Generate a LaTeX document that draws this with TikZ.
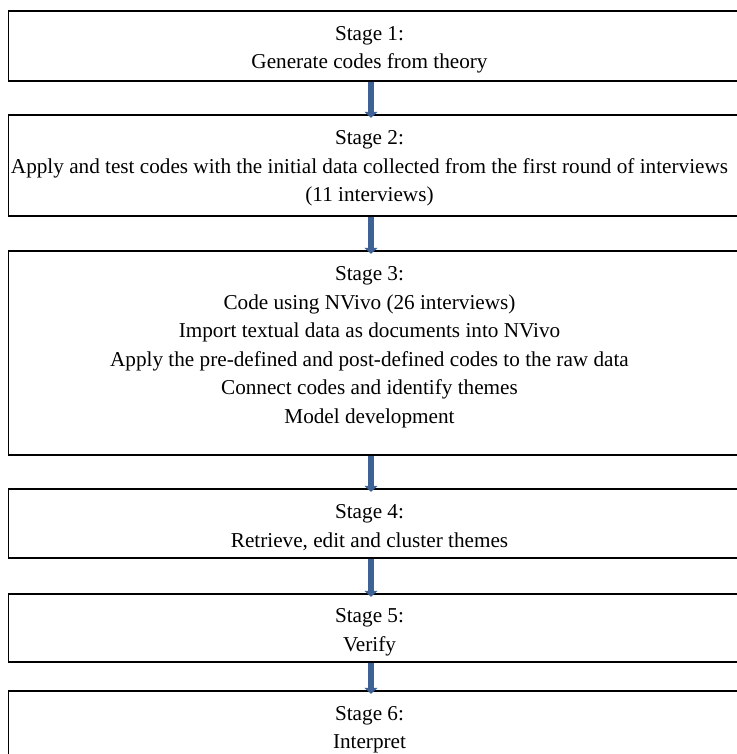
\documentclass[tikz,border=0pt]{standalone}
\usepackage{fontspec}
\setmainfont{Liberation Serif}
\usetikzlibrary{arrows.meta}
\definecolor{arrowblue}{RGB}{62,98,150}
\tikzset{
  stagebox/.style={draw=black, line width=1.3bp, rectangle, minimum width=736.7bp, inner sep=0pt},
  stagetext/.style={anchor=base, align=center, inner sep=0pt, font=\fontsize{21.2bp}{28.5bp}\selectfont},
  flow/.style={draw=arrowblue, line width=6bp, -{Triangle[width=13bp,length=6bp]}, shorten >=-3.5bp}
}
\begin{document}
\begin{tikzpicture}[x=1bp,y=-1bp]
\useasboundingbox (0,0) rectangle (737,754);
\clip (0,0) rectangle (737,754);
\fill[white] (0,0) rectangle (737,754);
\coordinate (ax) at (371,0);
% boxes
\node[stagebox, minimum height=70bp]  (s1) at (376.65,46) {};
\node[stagebox, minimum height=101bp] (s2) at (376.65,165.5) {};
\node[stagebox, minimum height=204bp] (s3) at (376.65,353) {};
\node[stagebox, minimum height=69bp]  (s4) at (376.65,523.5) {};
\node[stagebox, minimum height=68bp]  (s5) at (376.65,628) {};
\node[stagebox, minimum height=90bp]  (s6) at (376.65,736) {};
% texts (anchored at the baseline of the last line)
\node[stagetext] (t1) at (369.5,69) {Stage 1:\\Generate codes from theory};
\node[stagetext] (t2) at (369.5,201.5) {Stage 2:\\Apply and test codes with the initial data collected from the first round of interviews\\(11 interviews)};
\node[stagetext] (t3) at (369.5,423) {Stage 3:\\Code using NVivo (26 interviews)\\Import textual data as documents into NVivo\\Apply the pre-defined and post-defined codes to the raw data\\Connect codes and identify themes\\Model development};
\node[stagetext] (t4) at (369.5,547) {Stage 4:\\Retrieve, edit and cluster themes};
\node[stagetext] (t5) at (369.5,651) {Stage 5:\\Verify};
\node[stagetext] (t6) at (369.5,748.5) {Stage 6:\\Interpret};
% arrows
\draw[flow] (s1.south -| ax) -- (s2.north -| ax);
\draw[flow] (s2.south -| ax) -- (s3.north -| ax);
\draw[flow] (s3.south -| ax) -- (s4.north -| ax);
\draw[flow] (s4.south -| ax) -- (s5.north -| ax);
\draw[flow] (s5.south -| ax) -- (s6.north -| ax);
\end{tikzpicture}
\end{document}
